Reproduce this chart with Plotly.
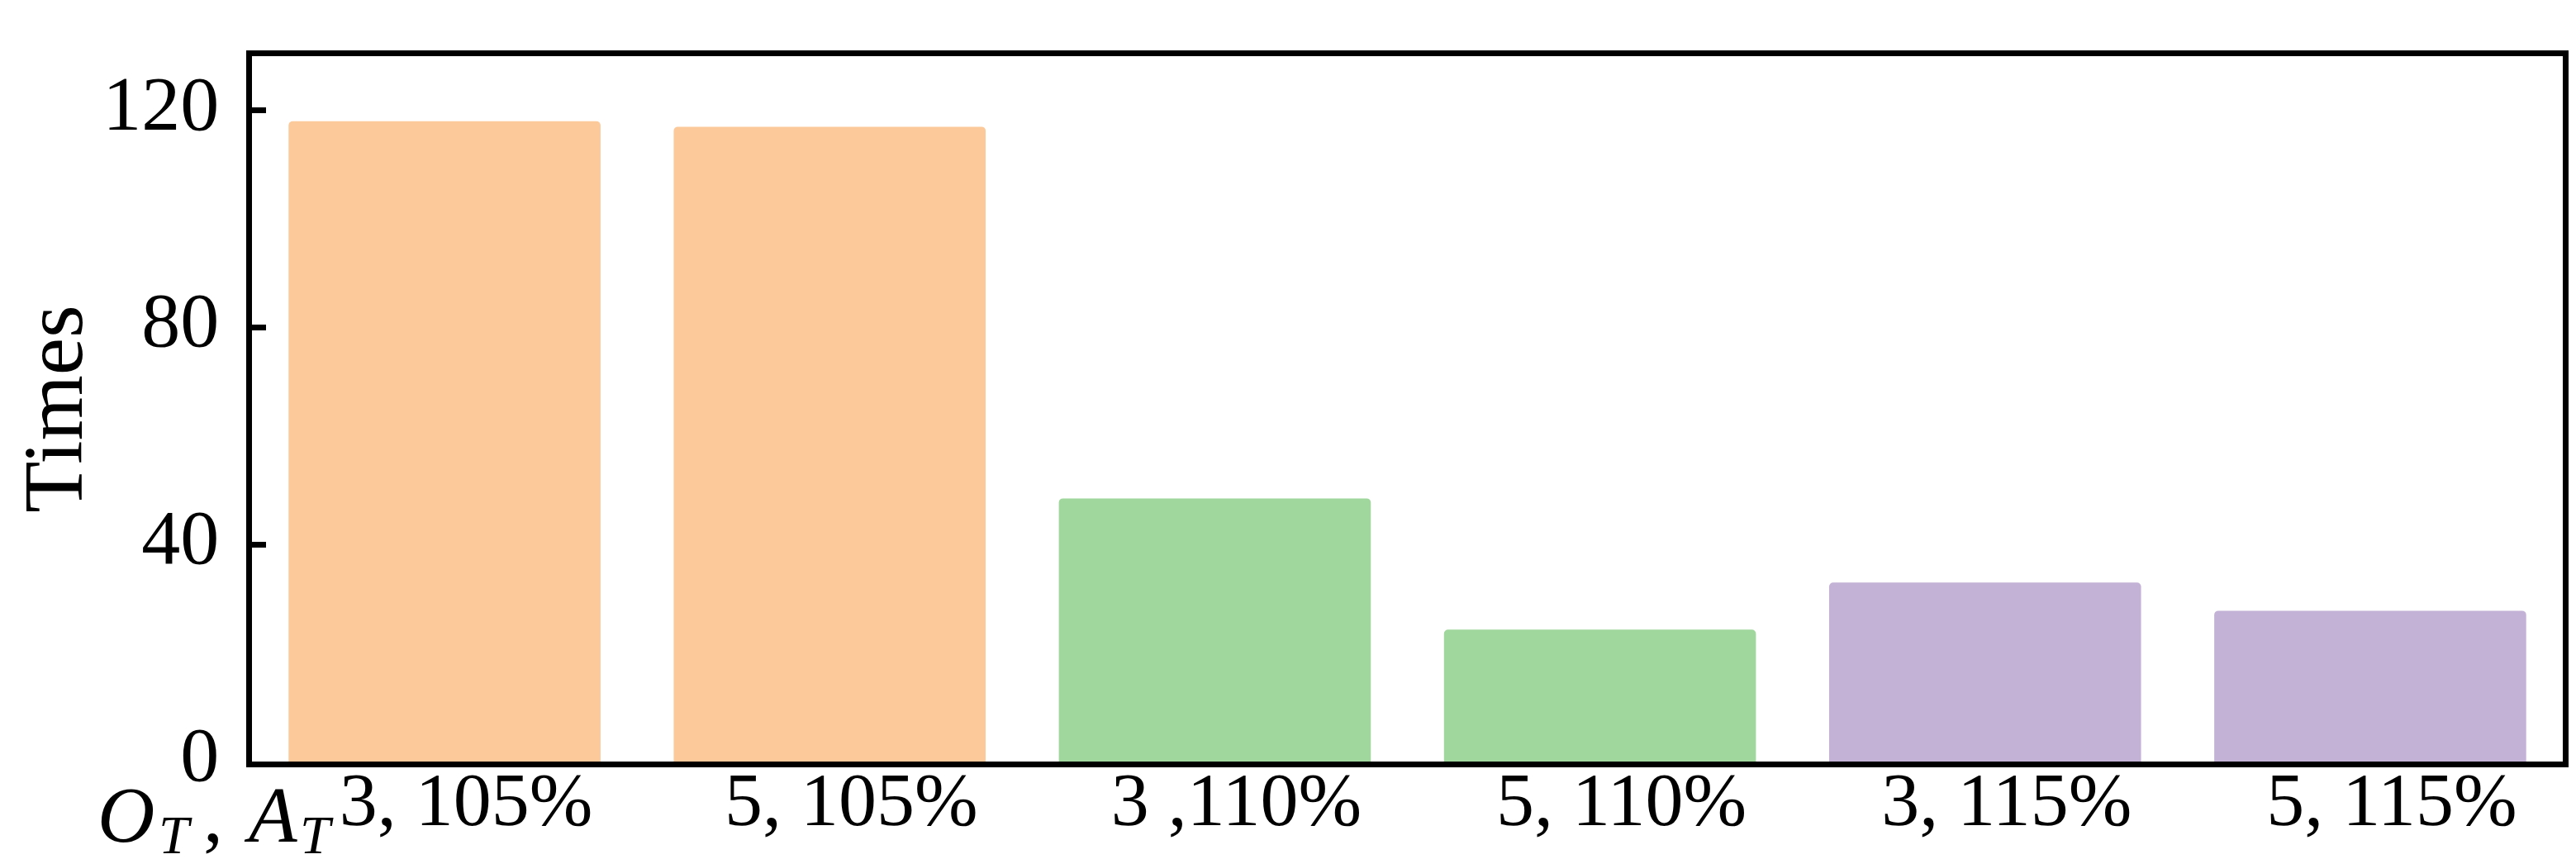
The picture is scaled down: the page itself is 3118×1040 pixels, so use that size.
import plotly.graph_objects as go

# values
categories = ["3, 105%", "5, 105%", "3 ,110%", "5, 110%", "3, 115%", "5, 115%"]
times = [118, 117, 48.5, 24.3, 33, 27.8]
colors = ["#FBC99A", "#FBC99A", "#9FD79C", "#9FD79C", "#C3B2D6", "#C3B2D6"]
y_ticks = [0, 40, 80, 120]

FONT = "Liberation Serif, Times New Roman, serif"
LEFT = 297

fig = go.Figure()
fig.add_trace(go.Bar(
    x=list(range(len(categories))),
    y=times,
    width=0.81,
    marker=dict(color=colors, line=dict(width=0), cornerradius=5),
    showlegend=False,
))

fig.update_layout(
    width=3118, height=1040,
    margin=dict(l=LEFT, r=24, t=60, b=126),
    paper_bgcolor="white", plot_bgcolor="white",
    font=dict(family=FONT, size=92, color="black"),
)

fig.update_xaxes(
    range=[-0.5, 5.5],
    tickvals=list(range(len(categories))),
    ticktext=categories,
    ticks="", showgrid=False, zeroline=False,
    showline=True, linecolor="black", linewidth=7, mirror=True,
    tickfont=dict(size=92),
    ticklabelstandoff=-40,
    ticklabelshift=26,
    automargin=False,
)

fig.update_yaxes(
    range=[0, 130],
    tickvals=y_ticks,
    ticks="inside", ticklen=17, tickwidth=7, tickcolor="black",
    showgrid=False, zeroline=False,
    showline=True, linecolor="black", linewidth=7, mirror=True,
    tickfont=dict(size=94),
    ticklabelstandoff=14,
    ticklabelshift=-10,
    title=dict(text="Times", font=dict(size=102), standoff=28),
    automargin=False,
)

# axis name "O_T, A_T" left of the first category, built piece by piece
# so the subscripts can sit as low as in the reference
pieces = [
    ("<i>O</i>", 108, 96, -9),
    ("<i>T</i>", 182, 66, -50),
    (",", 236, 96, -9),
    ("<i>A</i>", 285, 96, -9),
    ("<i>T</i>", 353, 66, -50),
]
for txt, px, size, dy in pieces:
    fig.add_annotation(
        text=txt, xref="paper", yref="paper", x=0, y=0,
        xanchor="left", yanchor="top",
        xshift=px - LEFT, yshift=dy,
        showarrow=False, font=dict(family=FONT, size=size),
    )

fig.write_html("out.html")
